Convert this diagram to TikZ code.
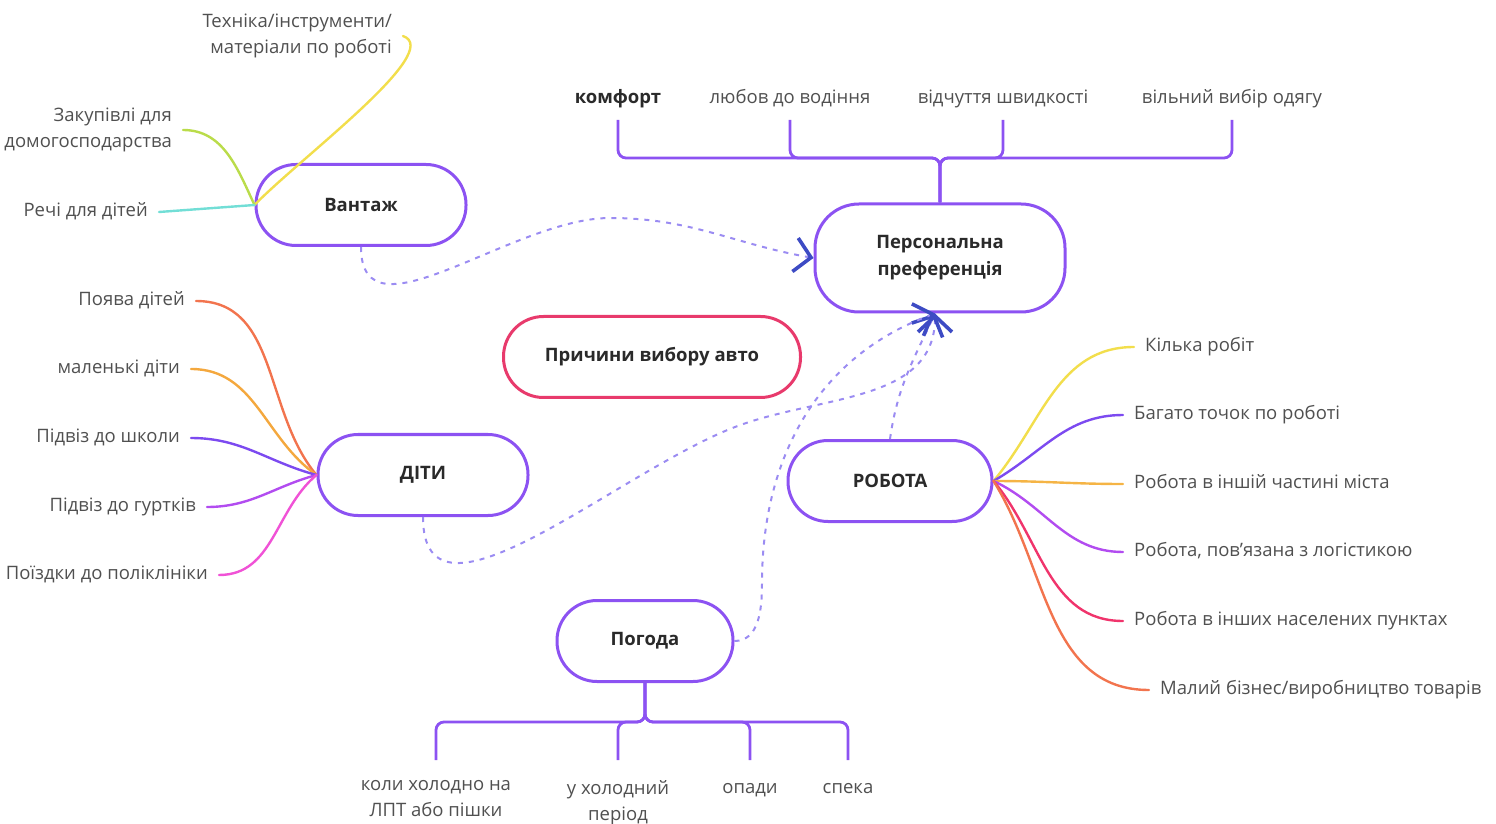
\documentclass[tikz,border=0pt]{standalone}
\usepackage{fontspec}
\setmainfont{Open Sans}
\usetikzlibrary{arrows.meta, positioning}
\definecolor{nodePurple}{HTML}{8C52F2}
\definecolor{rootPink}{HTML}{E83A6C}
\definecolor{dashPurple}{HTML}{9B8CF2}
\definecolor{arrowBlue}{HTML}{3D4BC4}
\definecolor{leafGray}{HTML}{505050}
\definecolor{titleDark}{HTML}{2A2A2A}
\definecolor{brYellow}{HTML}{F2DE4C}
\definecolor{brLime}{HTML}{BADC4A}
\definecolor{brCyan}{HTML}{72DED6}
\definecolor{brCoral}{HTML}{F2744E}
\definecolor{brOrange}{HTML}{F4A83E}
\definecolor{brAmber}{HTML}{F5B445}
\definecolor{brPurple}{HTML}{7C4AF0}
\definecolor{brViolet}{HTML}{B24CF0}
\definecolor{brMagenta}{HTML}{F052D6}
\definecolor{brRose}{HTML}{F0346C}
\newcommand{\leaffont}{\fontsize{18.5pt}{26pt}\selectfont}
\newcommand{\topicfont}{\fontsize{18.5pt}{27pt}\selectfont\bfseries}
\tikzset{
  topic/.style={rectangle, rounded corners=40pt, draw=nodePurple, line width=3pt,
                fill=white, font=\topicfont, text=titleDark, align=center,
                minimum height=81pt},
  rootbox/.style={topic, draw=rootPink},
  leaf/.style={font=\leaffont, text=leafGray, text height=13pt, text depth=4pt,
               inner ysep=0pt, inner xsep=11pt},
  leafL/.style={leaf, anchor=east},
  leafR/.style={leaf, anchor=west},
  leafM/.style={font=\leaffont, text=leafGray, inner sep=0pt, inner xsep=11pt,
                anchor=east, align=right},
  topleaf/.style={leaf, anchor=south, inner xsep=0pt, inner ysep=12pt},
  botleaf/.style={font=\leaffont, text=leafGray, anchor=north, align=center,
                  inner xsep=0pt, inner ysep=20pt,
                  execute at begin node={\rule{0pt}{13pt}}},
  twig/.style={line width=2.4pt, line cap=round},
  bracket/.style={draw=nodePurple, line width=2.8pt, rounded corners=8pt},
  relation/.style={dashPurple, line width=2pt, dash pattern=on 5pt off 6pt,
                   -{Straight Barb[length=16pt, width=34pt, line width=3.6pt, color=arrowBlue]}},
}
\begin{document}
\begin{tikzpicture}[x=1pt, y=1pt]
  \useasboundingbox (0,0) rectangle (1496,823);
  % topics
  \node[topic, minimum width=210pt] (vantazh) at (361,618) {Вантаж};
  \node[topic, minimum width=250pt, minimum height=108pt, rounded corners=44pt]
        (pref) at (940,565) {Персональна\\преференція};
  \node[rootbox, minimum width=297pt] (root) at (652,466) {Причини вибору авто};
  \node[topic, minimum width=210pt] (dity) at (423,348) {ДІТИ};
  \node[topic, minimum width=204pt] (robota) at (890,342) {РОБОТА};
  \node[topic, minimum width=176pt] (pohoda) at (645,182) {Погода};

  % personal preference
  \node[topleaf, text=titleDark, font=\leaffont\bfseries] (komfort) at (618,703) {комфорт};
  \node[topleaf] (lyubov) at (790,703) {любов до водіння};
  \node[topleaf] (shvyd) at (1003,703) {відчуття швидкості};
  \node[topleaf] (odyag) at (1232,703) {вільний вибір одягу};
  \coordinate (prefhub) at (940,665);
  \foreach \n in {komfort, lyubov, shvyd, odyag}
    \draw[bracket] (pref.north) -- (prefhub) -| (\n.south);

  % weather
  \node[botleaf] (kholod) at (436,63) {коли холодно на\\ЛПТ або пішки};
  \node[botleaf] (period) at (618,63) {у холодний\\період};
  \node[botleaf] (opady) at (750,63) {опади};
  \node[botleaf] (speka) at (848,63) {спека};
  \coordinate (pohodahub) at (645,101);
  \foreach \n in {kholod, period, opady, speka}
    \draw[bracket] (pohoda.south) -- (pohodahub) -| (\n.north);

  % cargo
  \node[leafM] (tech) at (403,787) {Техніка/інструменти/\\матеріали по роботі};
  \node[leafM] (zakup) at (183,693) {Закупівлі для\\домогосподарства};
  \node[leafL] (rechi) at (159,611) {Речі для дітей};
  \draw[twig, brYellow] (vantazh.west) .. controls (300,665) and (445,772) .. (tech.east);
  \draw[twig, brLime] (vantazh.west) to[out=115, in=0] (zakup.east);
  \draw[twig, brCyan] (vantazh.west) -- (rechi.east);

  % children
  \node[leafL] (poyava) at (196,522) {Поява дітей};
  \node[leafL] (malen) at (191,454) {маленькі діти};
  \node[leafL] (shkola) at (191,385) {Підвіз до школи};
  \node[leafL] (hurtky) at (207,316) {Підвіз до гуртків};
  \node[leafL] (polikl) at (219,248) {Поїздки до поліклініки};
  \foreach \n/\c/\a in {poyava/brCoral/130, malen/brOrange/145, shkola/brPurple/165,
                        hurtky/brViolet/195, polikl/brMagenta/220}
    \draw[twig, \c] (dity.west) to[out=\a, in=0] (\n.east);

  % work
  \node[leafR] (kilka) at (1134,476) {Кілька робіт};
  \node[leafR] (bahato) at (1123,408) {Багато точок по роботі};
  \node[leafR] (inshiy) at (1123,339) {Робота в іншій частині міста};
  \node[leafR] (lohist) at (1123,271) {Робота, пов’язана з логістикою};
  \node[leafR] (naseleni) at (1123,202) {Робота в інших населених пунктах};
  \node[leafR] (maliy) at (1149,133) {Малий бізнес/виробництво товарів};
  \foreach \n/\c/\a in {kilka/brYellow/50, bahato/brPurple/30, inshiy/brAmber/0,
                        lohist/brViolet/-25, naseleni/brRose/-50, maliy/brCoral/-58}
    \draw[twig, \c] (robota.east) to[out=\a, in=180] (\n.west);

  % links to personal preference
  \coordinate (crest) at (610,605);
  \coordinate (dbend) at (735,396);
  \coordinate (pbend) at (762,240);
  \draw[relation] (vantazh.south) to[out=-90, in=180] (crest) to[out=0, in=170] (pref.west);
  \draw[relation] (dity.south) to[out=-90, in=201] (dbend) to[out=21, in=-90] ([xshift=-5pt]pref.south);
  \draw[relation] (robota.north) to[out=82, in=-115] ([xshift=-5pt]pref.south);
  \draw[relation] (pohoda.east) to[out=0, in=-90] (pbend) to[out=90, in=200] ([xshift=-5pt]pref.south);
\end{tikzpicture}
\end{document}
